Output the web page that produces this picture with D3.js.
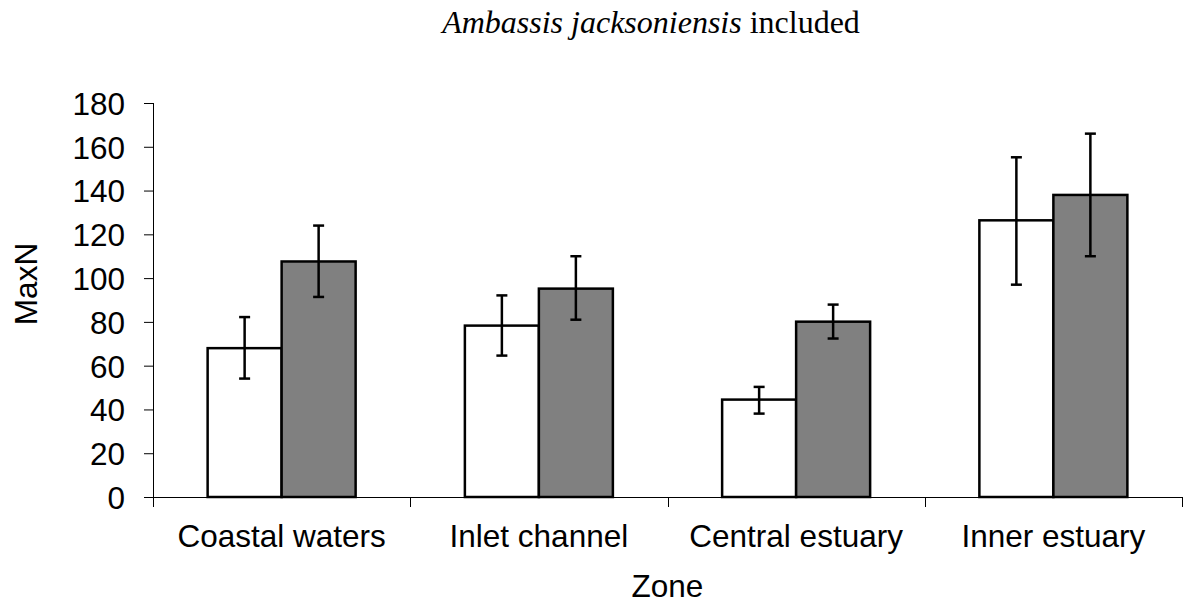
<!DOCTYPE html>
<html>
<head>
<meta charset="utf-8">
<script src="https://cdn.jsdelivr.net/npm/d3@7"></script>
<style>
  body { margin: 0; background: #fff; }
  text { font-family: "Liberation Sans", Arial, sans-serif; fill: #000; }
  .title { font-family: "Liberation Serif", "Times New Roman", serif; }
</style>
</head>
<body>
<div id="chart"></div>
<script>
var w = 1185;
var h = 608;

// data
var zones = ['Coastal waters', 'Inlet channel', 'Central estuary', 'Inner estuary'];
var seriesA = [68, 78.3, 44.5, 126.4];     // white bars
var seriesAlo = [54.1, 64.6, 38.1, 97];
var seriesAhi = [82.2, 92.1, 50.3, 155.2];
var seriesB = [107.6, 95.2, 80.1, 138];    // grey bars
var seriesBlo = [91.4, 81, 72.4, 110];
var seriesBhi = [124, 110, 87.9, 166];
var yTicks = [0, 20, 40, 60, 80, 100, 120, 140, 160, 180];

var fs = '31.5px';
var margin = {top: 103, right: 3, bottom: 111, left: 153};
var innerW = w - margin.left - margin.right,
  innerH = h - margin.top - margin.bottom;

var x = d3.scaleBand()
  .domain(zones)
  .range([0, innerW]);

var x1 = d3.scaleBand()
  .domain(['a', 'b'])
  .range([0, 148]);

var y = d3.scaleLinear()
  .domain([0, 180])
  .range([innerH, 0]);

var svg = d3.select('#chart')
  .append('svg')
    .attr('width', w)
    .attr('height', h)
  .append('g')
    .attr('transform', 'translate(' + [margin.left, margin.top] + ')');

var rows = zones.map(function(z, i) {
  return [
    {zone: z, key: 'a', v: seriesA[i], lo: seriesAlo[i], hi: seriesAhi[i], fill: '#fff'},
    {zone: z, key: 'b', v: seriesB[i], lo: seriesBlo[i], hi: seriesBhi[i], fill: '#808080'}
  ];
});

// y axis
var yAxis = d3.axisLeft(y)
  .tickValues(yTicks)
  .tickSize(9)
  .tickPadding(19);
var yAxisG = svg.append('g')
  .attr('class', 'y axis')
  .call(yAxis);
yAxisG.select('.domain').attr('d', 'M0.5,0V' + (innerH + 10));
yAxisG.selectAll('.tick line').attr('stroke', '#000');
yAxisG.selectAll('.tick text').style('font-size', fs).attr('dy', '0.36em');

// x axis: ticks between categories
var xAxisG = svg.append('g')
  .attr('class', 'x axis')
  .attr('transform', 'translate(0,' + innerH + ')');
xAxisG.append('line')
  .attr('x1', -9).attr('x2', innerW)
  .attr('y1', 0.5).attr('y2', 0.5)
  .attr('stroke', '#000');
xAxisG.selectAll('.sep')
  .data(zones.slice(1).concat(['end']))
  .enter().append('line')
    .attr('class', 'sep')
    .attr('x1', function(d, i) { return Math.round(x.step() * (i + 1)) + 0.5; })
    .attr('x2', function(d, i) { return Math.round(x.step() * (i + 1)) + 0.5; })
    .attr('y1', 0).attr('y2', 10)
    .attr('stroke', '#000');
xAxisG.selectAll('.lbl')
  .data(zones)
  .enter().append('text')
    .attr('class', 'lbl')
    .attr('x', function(d) { return x(d) + x.bandwidth() / 2; })
    .attr('y', 50)
    .attr('text-anchor', 'middle')
    .style('font-size', fs)
    .text(function(d) { return d; });

// bars
var group = svg.selectAll('.grp')
  .data(rows)
  .enter().append('g')
    .attr('class', 'grp')
    .attr('transform', function(d) {
      return 'translate(' + (x(d[0].zone) + (x.bandwidth() - 148) / 2) + ',0)';
    });

group.selectAll('rect')
  .data(function(d) { return d; })
  .enter().append('rect')
    .attr('x', function(d) { return x1(d.key); })
    .attr('y', function(d) { return y(d.v); })
    .attr('width', x1.bandwidth())
    .attr('height', function(d) { return innerH - y(d.v); })
    .style('fill', function(d) { return d.fill; })
    .style('stroke', '#000')
    .style('stroke-width', 2.5);

// error bars
var err = group.selectAll('.err')
  .data(function(d) { return d; })
  .enter().append('g')
    .attr('class', 'err')
    .attr('transform', function(d) { return 'translate(' + (x1(d.key) + x1.bandwidth() / 2) + ',0)'; });
err.append('line')
  .attr('y1', function(d) { return y(d.lo); })
  .attr('y2', function(d) { return y(d.hi); })
  .attr('stroke', '#000').attr('stroke-width', 2.5);
err.append('line')
  .attr('x1', -5.5).attr('x2', 5.5)
  .attr('y1', function(d) { return y(d.hi); })
  .attr('y2', function(d) { return y(d.hi); })
  .attr('stroke', '#000').attr('stroke-width', 2.5);
err.append('line')
  .attr('x1', -5.5).attr('x2', 5.5)
  .attr('y1', function(d) { return y(d.lo); })
  .attr('y2', function(d) { return y(d.lo); })
  .attr('stroke', '#000').attr('stroke-width', 2.5);

// titles
svg.append('text')
  .attr('x', innerW / 2)
  .attr('y', innerH + 100)
  .attr('text-anchor', 'middle')
  .style('font-size', fs)
  .text('Zone');

svg.append('text')
  .attr('transform', 'translate(' + (-116) + ',' + 181 + ') rotate(-90)')
  .attr('text-anchor', 'middle')
  .style('font-size', fs)
  .text('MaxN');

var title = svg.append('text')
  .attr('class', 'title')
  .attr('x', 651 - margin.left)
  .attr('y', 33 - margin.top)
  .attr('text-anchor', 'middle')
  .style('font-size', '32px');
title.append('tspan').style('font-style', 'italic').text('Ambassis jacksoniensis');
title.append('tspan').text(' included');
</script>
</body>
</html>
